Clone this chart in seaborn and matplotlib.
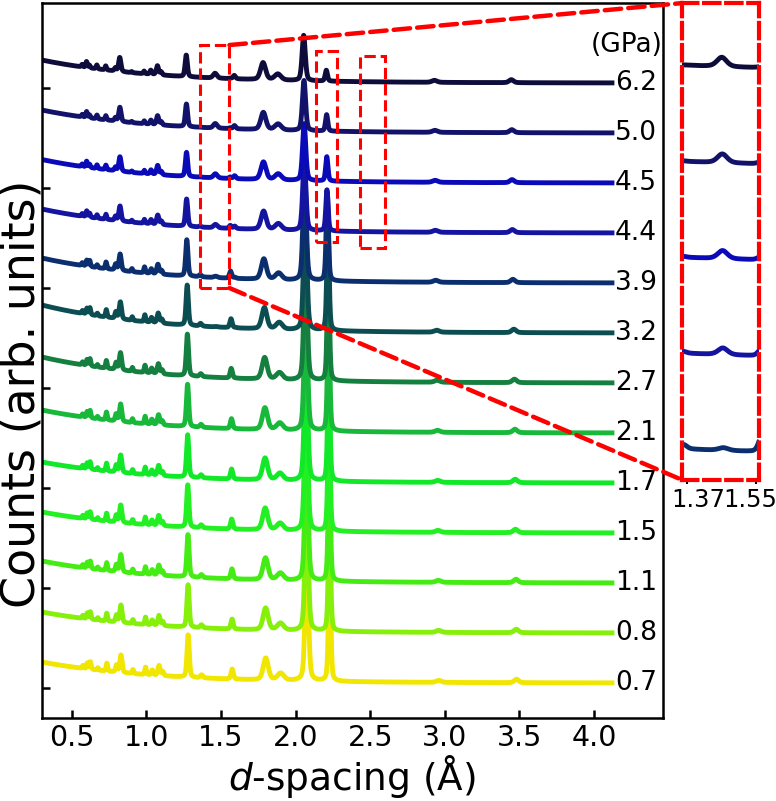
import numpy as np
import pandas as pd
import matplotlib
matplotlib.use("Agg")
import matplotlib.pyplot as plt
import seaborn as sns
from matplotlib.patches import Rectangle, ConnectionPatch

# pressures (GPa), bottom trace first
pressures = ["0.7", "0.8", "1.1", "1.5", "1.7", "2.1", "2.7", "3.2", "3.9", "4.4", "4.5", "5.0", "6.2"]
colors = ["#f0e600", "#86f00a", "#44ec14", "#22f022", "#10e828", "#18b83a", "#157f3f",
          "#0c4d52", "#0b2f6e", "#1414a0", "#0a0ab8", "#12126a", "#0d0c3a"]

# fraction of low-pressure phase in each pattern
lp_weight = [1.0, 1.0, 1.0, 1.0, 1.0, 1.0, 0.97, 0.9, 0.72, 0.3, 0.15, 0.08, 0.03]
# lattice compression applied to d-spacings
d_scale = [1.0, 0.9995, 0.999, 0.998, 0.9975, 0.997, 0.996, 0.995, 0.993, 0.992, 0.9915, 0.991, 0.990]
# low-d background level
bg_amp = [0.42, 0.42, 0.44, 0.42, 0.42, 0.46, 0.52, 0.56, 0.5, 0.48, 0.47, 0.46, 0.46]

# peak list
peak_pos = [0.575, 0.605, 0.625, 0.675, 0.735, 0.80, 0.83, 0.91, 0.995, 1.04, 1.085, 1.11,
            1.28, 1.37, 1.475, 1.575, 1.605, 1.80, 1.90, 2.075, 2.228, 2.96, 3.48]
peak_fwhm = [0.012, 0.012, 0.012, 0.012, 0.012, 0.015, 0.018, 0.012, 0.012, 0.015, 0.018, 0.015,
             0.018, 0.02, 0.03, 0.018, 0.02, 0.04, 0.05, 0.025, 0.018, 0.04, 0.035]
lp_height = [0.06, 0.12, 0.15, 0.05, 0.16, 0.14, 0.35, 0.08, 0.15, 0.10, 0.20, 0.08,
             0.85, 0.06, 0.0, 0.20, 0.0, 0.44, 0.14, 2.8, 2.4, 0.04, 0.07]
hp_height = [0.05, 0.12, 0.05, 0.08, 0.08, 0.06, 0.28, 0.02, 0.05, 0.08, 0.18, 0.06,
             0.42, 0.0, 0.10, 0.0, 0.07, 0.34, 0.12, 0.85, 0.15, 0.04, 0.06]

d = np.linspace(0.3, 4.12, 3000)


def peak(x, c, w, h):
    g = np.exp(-4 * np.log(2) * ((x - c) / w) ** 2)
    l = 1 / (1 + 4 * ((x - c) / w) ** 2)
    return h * (0.6 * g + 0.4 * l)


frames = []
for i, p in enumerate(pressures):
    y = i + bg_amp[i] * np.exp(-(d - 0.3) / 0.75)
    for c, w, hl, hh in zip(peak_pos, peak_fwhm, lp_height, hp_height):
        h = lp_weight[i] * hl + (1 - lp_weight[i]) * hh
        y = y + peak(d, c * d_scale[i], w, h)
    frames.append(pd.DataFrame({"d": d, "counts": y, "P": p}))
df = pd.concat(frames, ignore_index=True)
pal = dict(zip(pressures, colors))

fig = plt.figure(figsize=(7.76, 8.01), dpi=100)
ax = fig.add_axes([0.054, 0.1036, 0.80, 0.8926])
sns.lineplot(data=df, x="d", y="counts", hue="P", hue_order=pressures, palette=pal,
             lw=3.5, legend=False, estimator=None, sort=False, ax=ax)
ax.set_xlim(0.3, 4.46)
ax.set_ylim(-0.7, 13.6)
ax.set_xticks([0.5, 1.0, 1.5, 2.0, 2.5, 3.0, 3.5, 4.0])
ax.set_yticks(np.arange(-0.1, 13, 2))
ax.set_yticklabels([])
ax.tick_params(direction="in", length=6, width=1.8, labelsize=20.5, pad=4)
for sp in ax.spines.values():
    sp.set_linewidth(1.8)
ax.set_xlabel(r"$d$-spacing (Å)", fontsize=27, labelpad=1)
ax.set_ylabel("")
fig.text(35 / 776, 1 - 394 / 801, "Counts (arb. units)", rotation=90, rotation_mode="anchor",
         ha="center", va="baseline", fontsize=33)

for i, p in enumerate(pressures):
    ax.text(4.14, i, p, fontsize=19, ha="left", va="center")
ax.text(4.22, 12.76, "(GPa)", fontsize=19, ha="center", va="center")

# zoom boxes
boxes = [(1.357, 7.9, 1.557, 12.76), (2.135, 8.82, 2.275, 12.64), (2.43, 8.7, 2.60, 12.54)]
for x0, y0, x1, y1 in boxes:
    ax.add_patch(Rectangle((x0, y0), x1 - x0, y1 - y0, fill=False, ec="red", lw=2.2,
                           ls="--", zorder=5))

# inset
ax_in = fig.add_axes([0.8795, 0.4007, 0.098, 0.5955])
sns.lineplot(data=df[df["P"].isin(pressures[8:])], x="d", y="counts", hue="P",
             hue_order=pressures[8:], palette=pal, lw=3.5, legend=False,
             estimator=None, sort=False, ax=ax_in)
ax_in.set_xlim(1.357, 1.557)
ax_in.set_ylim(7.8, 12.76)
ax_in.set_xticks([1.37, 1.55])
ax_in.set_xticklabels([])
ax_in.set_yticks([])
ax_in.set_xlabel("")
ax_in.set_ylabel("")
ax_in.tick_params(axis="x", direction="out", length=3, width=1.5)
for sp in ax_in.spines.values():
    sp.set_linestyle("--")
    sp.set_color("red")
    sp.set_linewidth(3)
fig.text(698 / 776, 1 - 500 / 801, "1.37", fontsize=17.5, ha="center", va="center")
fig.text(750 / 776, 1 - 500 / 801, "1.55", fontsize=17.5, ha="center", va="center")

for ya, yb in [(12.76, 1), (7.9, 0)]:
    con = ConnectionPatch(xyA=(1.557, ya), coordsA="data", axesA=ax,
                          xyB=(0, yb), coordsB="axes fraction", axesB=ax_in,
                          color="red", lw=3.2, ls="--", zorder=6)
    fig.add_artist(con)

fig.savefig("out.png", dpi=100)
